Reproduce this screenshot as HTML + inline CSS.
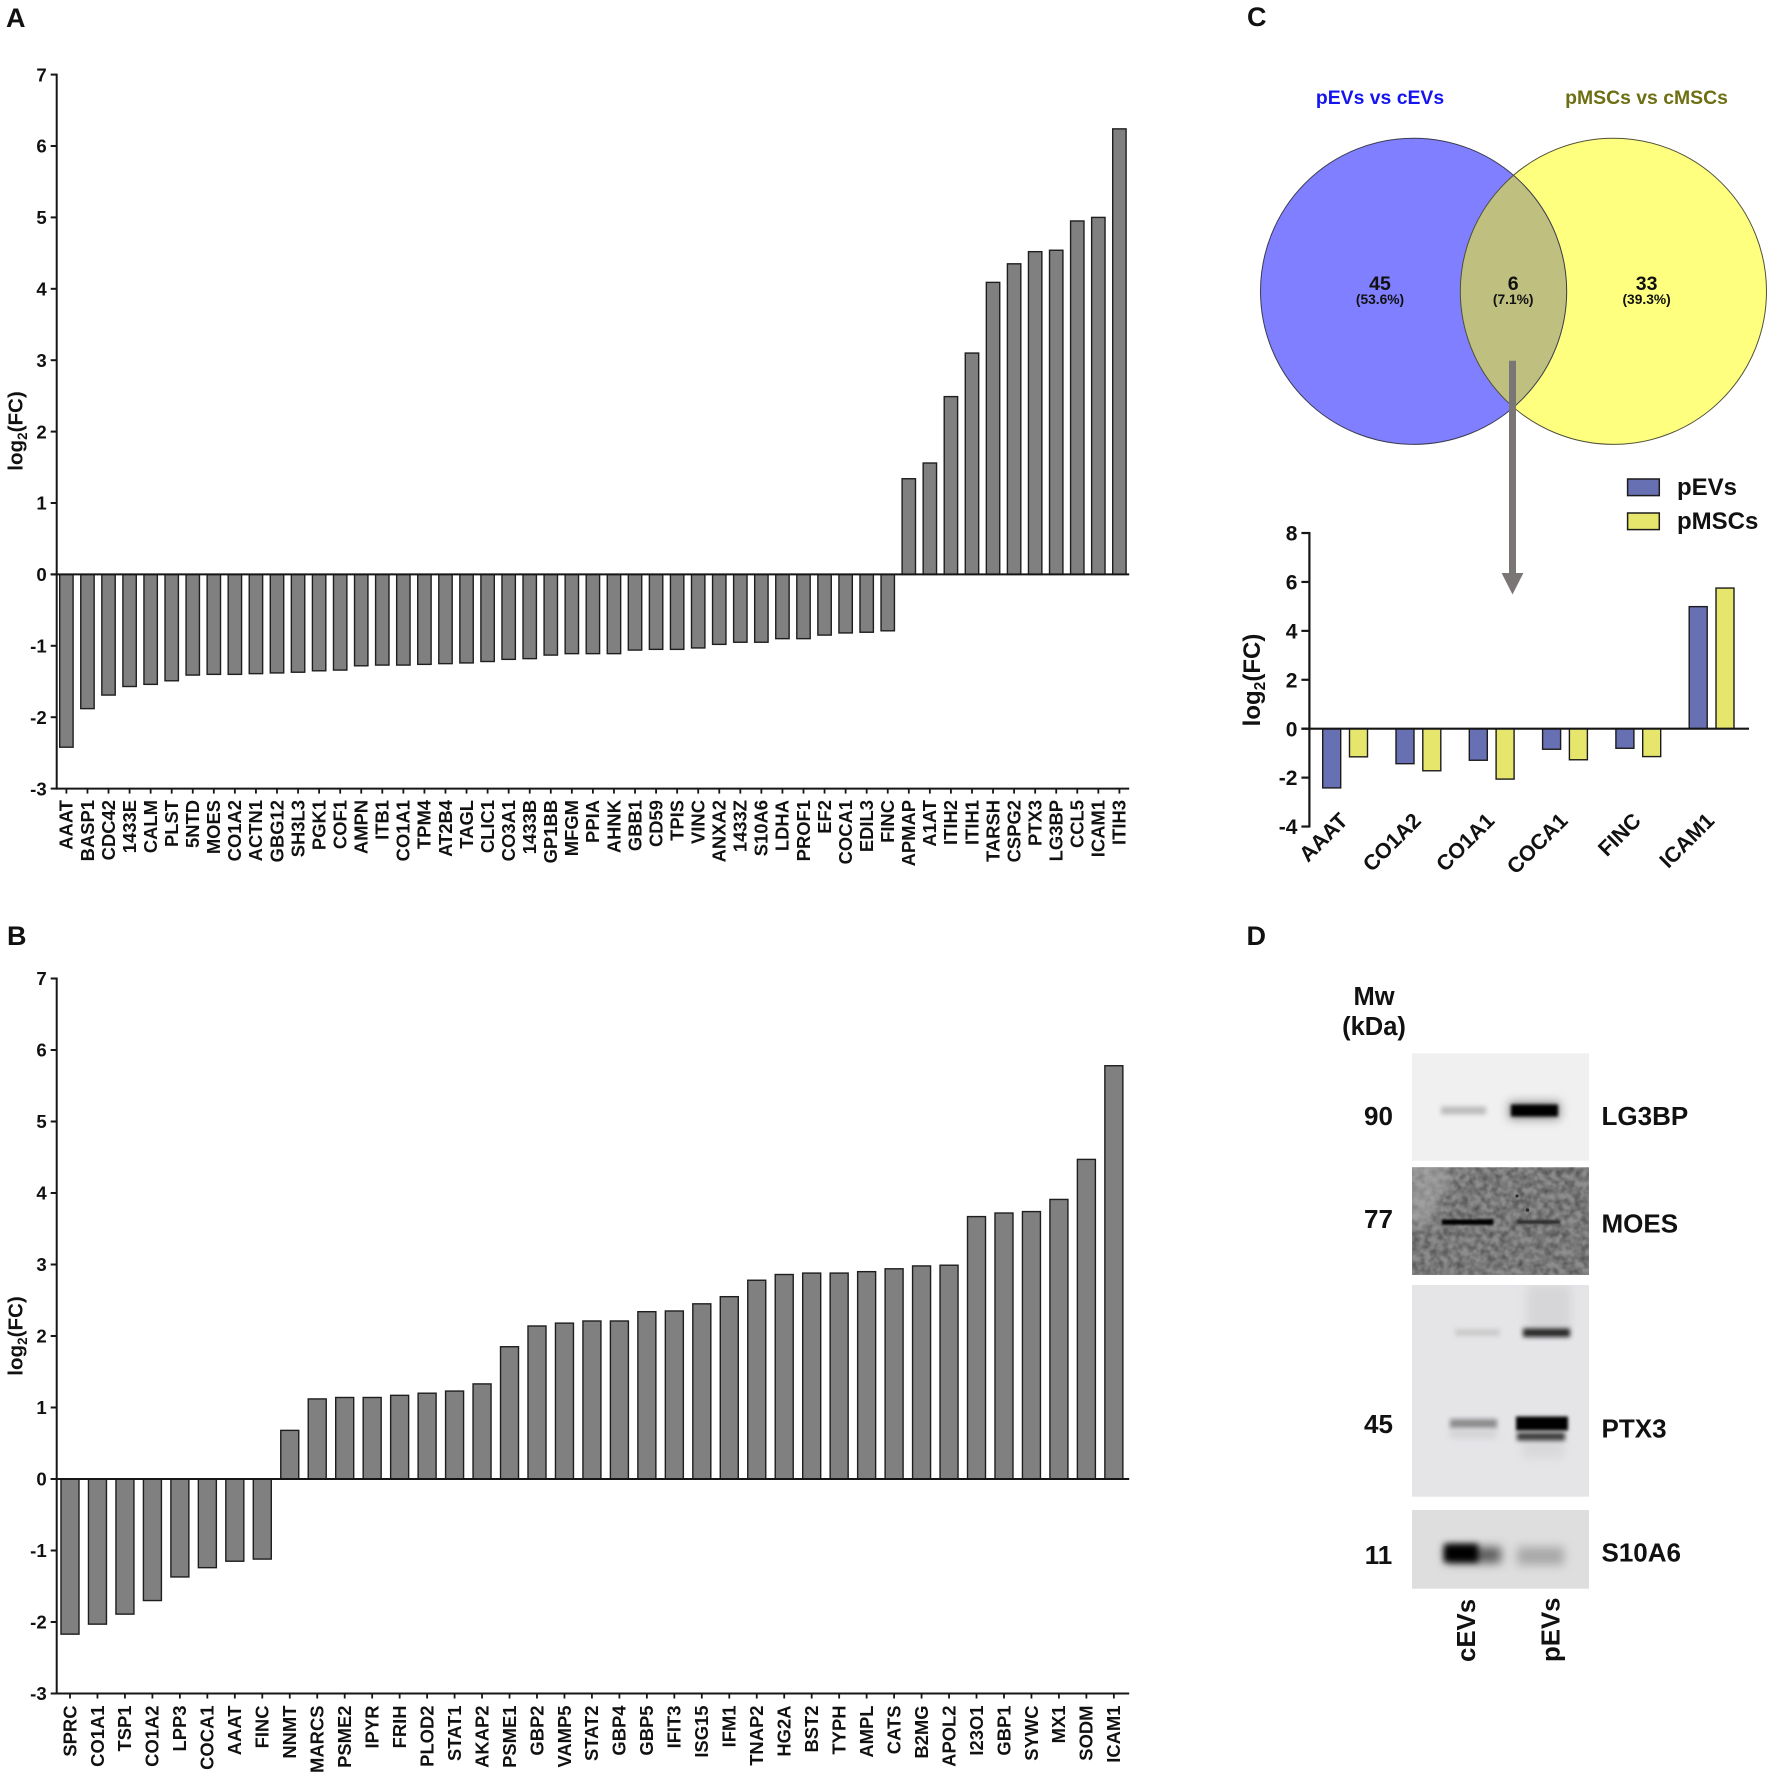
<!DOCTYPE html>
<html lang="en">
<head>
<meta charset="utf-8">
<title>Proteomic fold change figure</title>
<style>
html,body{margin:0;padding:0;background:#fff;}
#figure{display:block;width:1772px;height:1777px;}
text{font-family:"Liberation Sans",Arial,sans-serif;font-weight:bold;fill:#111;}
</style>
</head>
<body>
<svg id="figure" xmlns="http://www.w3.org/2000/svg" width="1772" height="1777" viewBox="0 0 1772 1777">
  <defs>
    <filter id="b1" x="-30%" y="-200%" width="160%" height="500%"><feGaussianBlur stdDeviation="1.1"/></filter>
    <filter id="b15" x="-30%" y="-200%" width="160%" height="500%"><feGaussianBlur stdDeviation="1.7"/></filter>
    <filter id="b2" x="-30%" y="-200%" width="160%" height="500%"><feGaussianBlur stdDeviation="2.4"/></filter>
    <filter id="b3" x="-30%" y="-100%" width="160%" height="300%"><feGaussianBlur stdDeviation="3.2"/></filter>
    <filter id="b4" x="-40%" y="-100%" width="180%" height="300%"><feGaussianBlur stdDeviation="5"/></filter>
    <filter id="b8" x="-40%" y="-60%" width="180%" height="220%"><feGaussianBlur stdDeviation="9"/></filter>
    <filter id="noise" x="0" y="0" width="100%" height="100%">
      <feTurbulence type="fractalNoise" baseFrequency="0.16" numOctaves="3" seed="7"/>
      <feColorMatrix type="matrix" values="0 0 0 0 0  0 0 0 0 0  0 0 0 0 0  0.85 0 0 0 -0.27"/>
      <feGaussianBlur stdDeviation="0.7"/>
    </filter>
    <clipPath id="clip2"><rect x="1412" y="1167" width="177" height="108"/></clipPath>
    <clipPath id="clip3"><rect x="1412" y="1285" width="177" height="212"/></clipPath>
    <clipPath id="clip4"><rect x="1412" y="1510" width="177" height="79"/></clipPath>
    <clipPath id="clip1"><rect x="1412" y="1053" width="177" height="108"/></clipPath>
  </defs>
  <rect x="0" y="0" width="1772" height="1777" fill="#ffffff"/>

  <text x="6" y="27" font-size="27" fill="#000">A</text>
  <text x="7" y="945" font-size="27" fill="#000">B</text>
  <text x="1247" y="26" font-size="27" fill="#000">C</text>
  <text x="1246.5" y="945" font-size="27" fill="#000">D</text>

  <g id="chartA"></g>
  <g id="chartB"></g>

  <!-- Venn -->
  <g>
    <text x="1380" y="104" font-size="19.4" text-anchor="middle" style="fill:#1414f0">pEVs vs cEVs</text>
    <text x="1646.5" y="104" font-size="19.4" text-anchor="middle" style="fill:#6e6e12">pMSCs vs cMSCs</text>
    <circle cx="1413.6" cy="291.3" r="153.1" fill="#0000ff" fill-opacity="0.5"/>
    <circle cx="1613.4" cy="291.3" r="153.1" fill="#ffff00" fill-opacity="0.5"/>
    <circle cx="1413.6" cy="291.3" r="153.1" fill="none" stroke="#3a3a50" stroke-width="1"/>
    <circle cx="1613.4" cy="291.3" r="153.1" fill="none" stroke="#50503a" stroke-width="1"/>
    <text x="1380" y="290" font-size="19.5" text-anchor="middle">45</text>
    <text x="1380" y="304" font-size="13.8" text-anchor="middle">(53.6%)</text>
    <text x="1513.2" y="290" font-size="19.5" text-anchor="middle">6</text>
    <text x="1513.2" y="304" font-size="13.8" text-anchor="middle">(7.1%)</text>
    <text x="1646.6" y="290" font-size="19.5" text-anchor="middle">33</text>
    <text x="1646.6" y="304" font-size="13.8" text-anchor="middle">(39.3%)</text>
  </g>
  <polygon points="1509,360.7 1516,360.7 1516,573 1523.4,573 1512.5,594.5 1501.6,573 1509,573" fill="#7a7676"/>

  <!-- Legend -->
  <g>
    <rect x="1627.6" y="479" width="31.7" height="16.6" fill="#6870b4" stroke="#1c1c1c" stroke-width="1.5"/>
    <text x="1677" y="495" font-size="24">pEVs</text>
    <rect x="1627.6" y="513" width="31.7" height="16.6" fill="#e6e66c" stroke="#1c1c1c" stroke-width="1.5"/>
    <text x="1677" y="529" font-size="24">pMSCs</text>
  </g>

  <g id="chartC"></g>

  <!-- Western blots -->
  <g>
    <text x="1374" y="1005" font-size="25.5" text-anchor="middle">Mw</text>
    <text x="1374" y="1035" font-size="25.5" text-anchor="middle">(kDa)</text>

    <g>
      <rect x="1412" y="1053.3" width="177" height="107.4" fill="#f0f0f0"/>
      <g clip-path="url(#clip1)">
        <rect x="1441" y="1106.5" width="45" height="8" fill="#bcbcbc" filter="url(#b2)"/>
        <rect x="1509" y="1102" width="51" height="17" fill="#8a8a8a" filter="url(#b4)"/>
        <rect x="1511" y="1104.5" width="47" height="12" fill="#000" filter="url(#b15)"/>
      </g>
    </g>
    <g>
      <rect x="1412" y="1167.3" width="177" height="107.7" fill="#8e8e8e"/>
      <g clip-path="url(#clip2)">
        <rect x="1412" y="1167.3" width="177" height="107.7" filter="url(#noise)"/>
        <polygon points="1408,1160 1448,1160 1448,1185 1428,1225 1408,1225" fill="#b0b0b0" opacity="0.55" filter="url(#b4)"/>
        <rect x="1442" y="1219.5" width="51" height="5.2" fill="#000" filter="url(#b1)"/>
        <rect x="1517" y="1220" width="43" height="4" fill="#2e2e2e" filter="url(#b1)"/>
        <circle cx="1517" cy="1196" r="1.6" fill="#2a2a2a"/>
        <circle cx="1527.5" cy="1210" r="1.8" fill="#2a2a2a"/>
      </g>
    </g>
    <g>
      <rect x="1412" y="1285" width="177" height="211.7" fill="#e5e5e8"/>
      <g clip-path="url(#clip3)">
        <rect x="1527" y="1285" width="44" height="46" fill="#d6d6d8" filter="url(#b4)"/>
        <rect x="1455" y="1329" width="45" height="7" fill="#cbcbcb" filter="url(#b2)"/>
        <rect x="1523" y="1328.5" width="47" height="8.5" fill="#262626" filter="url(#b2)"/>
        <rect x="1450" y="1419" width="47" height="9.5" fill="#8c8c8c" filter="url(#b2)"/>
        <rect x="1450" y="1430" width="47" height="8" fill="#d2d2d4" filter="url(#b3)"/>
        <rect x="1522" y="1440" width="42" height="18" fill="#d8d8da" filter="url(#b4)"/>
        <rect x="1517" y="1432.5" width="48" height="8" fill="#3a3a3a" filter="url(#b2)"/>
        <rect x="1516" y="1416.5" width="52" height="14" fill="#000" filter="url(#b15)"/>
      </g>
    </g>
    <g>
      <rect x="1412" y="1510" width="177" height="78.7" fill="#dedede"/>
      <g clip-path="url(#clip4)">
        <rect x="1446" y="1547" width="55" height="16" fill="#5c5c5c" filter="url(#b4)"/>
        <rect x="1444" y="1544" width="34" height="18" fill="#000" filter="url(#b3)"/>
        <rect x="1517" y="1547" width="47" height="18" fill="#a8a8a8" filter="url(#b4)"/>
      </g>
    </g>

    <text x="1378.5" y="1125" font-size="26" text-anchor="middle">90</text>
    <text x="1378.5" y="1228" font-size="26" text-anchor="middle">77</text>
    <text x="1378.5" y="1433" font-size="26" text-anchor="middle">45</text>
    <text x="1378.5" y="1564" font-size="26" text-anchor="middle">11</text>
    <text x="1601.5" y="1125" font-size="26">LG3BP</text>
    <text x="1601.5" y="1232.5" font-size="26">MOES</text>
    <text x="1601.5" y="1437.5" font-size="26">PTX3</text>
    <text x="1601.5" y="1561.5" font-size="26">S10A6</text>
    <text transform="translate(1475 1662) rotate(-90)" font-size="25.8">cEVs</text>
    <text transform="translate(1559.3 1662) rotate(-90)" font-size="25.8">pEVs</text>
  </g>
</svg>

<script>
const panelACategories = ["AAAT","BASP1","CDC42","1433E","CALM","PLST","5NTD","MOES","CO1A2","ACTN1","GBG12","SH3L3","PGK1","COF1","AMPN","ITB1","CO1A1","TPM4","AT2B4","TAGL","CLIC1","CO3A1","1433B","GP1BB","MFGM","PPIA","AHNK","GBB1","CD59","TPIS","VINC","ANXA2","1433Z","S10A6","LDHA","PROF1","EF2","COCA1","EDIL3","FINC","APMAP","A1AT","ITIH2","ITIH1","TARSH","CSPG2","PTX3","LG3BP","CCL5","ICAM1","ITIH3"];
const panelAValues = [-2.42,-1.88,-1.69,-1.57,-1.54,-1.49,-1.41,-1.40,-1.40,-1.39,-1.38,-1.37,-1.35,-1.34,-1.28,-1.27,-1.27,-1.26,-1.25,-1.24,-1.22,-1.19,-1.18,-1.13,-1.11,-1.11,-1.11,-1.06,-1.05,-1.05,-1.03,-0.98,-0.95,-0.95,-0.90,-0.90,-0.85,-0.82,-0.81,-0.79,1.34,1.56,2.49,3.10,4.09,4.35,4.52,4.54,4.95,5.00,6.24];
const panelBCategories = ["SPRC","CO1A1","TSP1","CO1A2","LPP3","COCA1","AAAT","FINC","NNMT","MARCS","PSME2","IPYR","FRIH","PLOD2","STAT1","AKAP2","PSME1","GBP2","VAMP5","STAT2","GBP4","GBP5","IFIT3","ISG15","IFM1","TNAP2","HG2A","BST2","TYPH","AMPL","CATS","B2MG","APOL2","I23O1","GBP1","SYWC","MX1","SODM","ICAM1"];
const panelBValues = [-2.17,-2.03,-1.89,-1.70,-1.37,-1.24,-1.15,-1.12,0.68,1.12,1.14,1.14,1.17,1.20,1.23,1.33,1.85,2.14,2.18,2.21,2.21,2.34,2.35,2.45,2.55,2.78,2.86,2.88,2.88,2.90,2.94,2.98,2.99,3.67,3.72,3.74,3.91,4.47,5.78];
const panelCCategories = ["AAAT","CO1A2","CO1A1","COCA1","FINC","ICAM1"];
const panelCPEVs = [-2.42,-1.43,-1.29,-0.84,-0.80,4.99];
const panelCPMSCs = [-1.15,-1.72,-2.06,-1.27,-1.14,5.75];
const yTicksAB = [7,6,5,4,3,2,1,0,-1,-2,-3];
const yTicksC = [8,6,4,2,0,-2,-4];

const SVGNS = "http://www.w3.org/2000/svg";
function mk(parent, tag, attrs, txt) {
  const el = document.createElementNS(SVGNS, tag);
  for (const k in attrs) el.setAttribute(k, attrs[k]);
  if (txt !== undefined) el.textContent = txt;
  parent.appendChild(el);
  return el;
}
function linearY(y0, unit) { return v => y0 - v * unit; }

function axisTitle(parent, x, y, size) {
  const t = mk(parent, "text", {transform:"translate(" + x + " " + y + ") rotate(-90)", "font-size":size, "text-anchor":"middle"});
  
  
  mk(t, "tspan", {}, "log");
  mk(t, "tspan", {"font-size":size * 0.65, dy:size * 0.22}, "2");
  mk(t, "tspan", {dy:-size * 0.22}, "(FC)");
}

function yAxis(g, cfg, ticks) {
  const y = cfg.y;
  const axis = mk(g, "line", {x1:cfg.axisX, x2:cfg.axisX, y1:y(ticks[0]) - 1, y2:y(ticks[ticks.length - 1]) + 1, stroke:"#161616", "stroke-width":cfg.axisW});
  
  
  ticks.forEach(v => {
    const tk = mk(g, "line", {x1:cfg.axisX - cfg.yTickLen, x2:cfg.axisX, y1:y(v), y2:y(v), stroke:"#161616", "stroke-width":cfg.axisW});
    
    
    const lb = mk(g, "text", {x:cfg.axisX - cfg.yTickLen - cfg.yLabelGap, y:y(v) + cfg.yFont * 0.36, "font-size":cfg.yFont, "text-anchor":"end"}, String(v));
    
    
  });
}

function drawSingleSeries(gid, cats, vals, cfg) {
  const g = document.getElementById(gid);
  const y = cfg.y;
  const x = i => cfg.firstX + i * cfg.step;
  yAxis(g, cfg, yTicksAB);
  axisTitle(g, 22.5, cfg.titleY, 20.6);
  vals.forEach((v, i) => {
    const top = Math.min(y(0), y(v));
    const bar = mk(g, "rect", {x:x(i) - cfg.barW / 2, y:top, width:cfg.barW, height:Math.abs(y(v) - y(0)), fill:"#808080", stroke:"#1e1e1e", "stroke-width":1.4});
    
    
  });
  const zero = mk(g, "line", {x1:cfg.axisX - cfg.yTickLen, x2:cfg.endX, y1:y(0), y2:y(0), stroke:"#161616", "stroke-width":cfg.axisW});
  
  
  const bottom = y(-3);
  const xAxis = mk(g, "line", {x1:cfg.axisX, x2:cfg.endX, y1:bottom, y2:bottom, stroke:"#161616", "stroke-width":cfg.axisW});
  
  
  cats.forEach((c, i) => {
    const tk = mk(g, "line", {x1:x(i), x2:x(i), y1:bottom, y2:bottom + 5, stroke:"#161616", "stroke-width":1.8});
    
    
    const lb = mk(g, "text", {transform:"translate(" + (x(i) + 6.3) + " " + cfg.labelTop + ") rotate(-90)", "font-size":18.4, "text-anchor":"end"}, c);
    
    
  });
}

drawSingleSeries("chartA", panelACategories, panelAValues, {
  y:linearY(574.4, 71.4), axisX:56.7, axisW:2, yTickLen:6, yLabelGap:4, yFont:18.6, titleY:431,
  firstX:66.4, step:21.06, barW:13.4, endX:1129.2, labelTop:800
});
drawSingleSeries("chartB", panelBCategories, panelBValues, {
  y:linearY(1479, 71.5), axisX:56.7, axisW:2, yTickLen:6, yLabelGap:4, yFont:18.6, titleY:1336,
  firstX:70, step:27.47, barW:18, endX:1129.2, labelTop:1705.5
});

(function () {
  const g = document.getElementById("chartC");
  const y = linearY(728.7, 24.46);
  const cfg = {y:y, axisX:1309.4, axisW:2.2, yTickLen:8, yLabelGap:4, yFont:21};
  yAxis(g, cfg, yTicksC);
  axisTitle(g, 1259.8, 680, 24);
  const groupX = i => 1345.1 + i * 73.3;
  const barW = 18;
  panelCCategories.forEach((c, i) => {
    const v1 = panelCPEVs[i];
    const v2 = panelCPMSCs[i];
    const b1 = mk(g, "rect", {x:groupX(i) - 13.4 - barW / 2, y:Math.min(y(0), y(v1)), width:barW, height:Math.abs(y(v1) - y(0)), fill:"#6870b4", stroke:"#1c1c1c", "stroke-width":1.4});
    
    
    const b2 = mk(g, "rect", {x:groupX(i) + 13.4 - barW / 2, y:Math.min(y(0), y(v2)), width:barW, height:Math.abs(y(v2) - y(0)), fill:"#e6e66c", stroke:"#1c1c1c", "stroke-width":1.4});
    
    
    const lb = mk(g, "text", {transform:"translate(" + (groupX(i) + 4) + " " + 822 + ") rotate(-45)", "font-size":21.5, "text-anchor":"end"}, c);
    
    
  });
  const zero = mk(g, "line", {x1:1301.4, x2:1749, y1:y(0), y2:y(0), stroke:"#161616", "stroke-width":2.2});
  
  
})();
</script>
</body>
</html>
